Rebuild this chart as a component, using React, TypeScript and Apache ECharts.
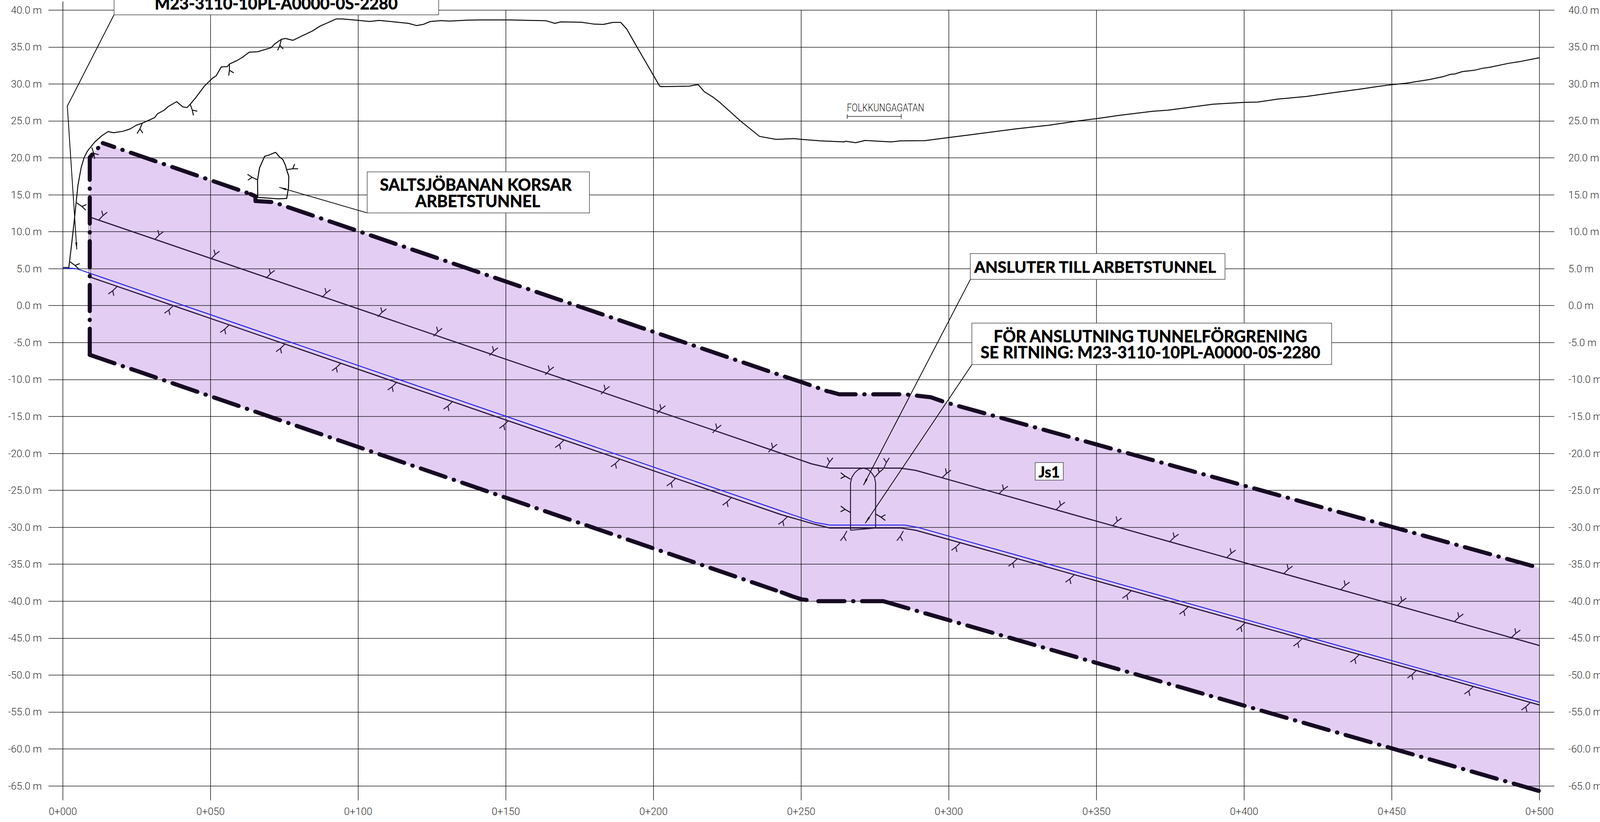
import React, { useEffect, useRef } from "react";
import * as echarts from "echarts";

const terrain = [[0,5.15],[2,5.15],[3,8.45],[3.9,11.7],[5.1,16.3],[6.2,18.7],[7.2,20.05],[8.3,20.9],[10.7,22.1],[13.2,23],[15.3,23.55],[17.2,23.4],[20.4,23.6],[22.7,23.9],[24.8,24.4],[26.9,24.7],[29.2,25.1],[31.1,25.45],[32,25.95],[34.3,26.45],[35.7,26.95],[38.5,27.6],[40.6,26.9],[42,26.8],[43.1,27.25],[45,28.15],[47.8,29.65],[50.6,30.75],[51.9,31.1],[53.6,32.3],[55.7,32.35],[56.4,32.7],[58.9,33.15],[60.8,33.6],[63.1,34.3],[65.9,34.35],[70.5,34.9],[71.7,35.4],[74,36.05],[75.4,36.15],[77.9,35.9],[80.7,36.45],[84.4,37.15],[87.2,37.85],[92.6,38.8],[94.6,38.8],[97.4,38.7],[103.9,38.45],[107.1,38.6],[110.9,38.45],[117,38.2],[119.7,37.9],[122,38.05],[124.4,38.45],[128.1,38.57],[130.9,38.5],[137.2,38.63],[141.3,38.66],[151.4,38.66],[158.5,38.6],[163.6,38.55],[166.6,38.2],[168.6,38.4],[175.7,38.35],[179.8,38.1],[183,38.05],[186.3,38.33],[188.9,38.33],[190.9,37.45],[194.4,35],[200,31.15],[202,29.75],[202.5,29.63],[212.1,29.7],[214.7,29.9],[215.2,29.87],[217.2,28.95],[220.2,28.2],[222.3,27.55],[229.4,25],[235.9,22.9],[241.5,22.5],[247.6,22.6],[250.1,22.5],[256.5,22.3],[264.7,22.15],[265,22.25],[268.5,22.05],[271.6,22.35],[280.5,22.15],[283.7,22.3],[291.9,22.33],[300,22.75],[307.1,23.1],[322.3,23.9],[331.1,24.3],[333.7,24.4],[343.8,25],[350,25.3],[357.7,25.75],[369.1,26.3],[374.2,26.45],[381.8,26.85],[389.4,27.25],[400,27.5],[404.6,27.55],[411.5,27.95],[421,28.3],[429.9,28.8],[439.4,29.3],[445.1,29.65],[450,29.9],[454.9,30.1],[462.8,30.6],[467.5,31],[469.9,31.3],[471.4,31.35],[473.9,31.67],[478,31.85],[480.5,32.1],[483.1,32.25],[489.7,32.8],[493.7,33.05],[500,33.55]];

const upperRock = [[9.7,11.9],[243.3,-20],[253.4,-21.4],[259.7,-22],[283.7,-22],[288.8,-22.3],[297.7,-23.3],[500,-46]];
const lowerRock = [[9.3,3.85],[243.3,-28.3],[254.7,-29.6],[259.7,-30.1],[283.7,-30.1],[288.8,-30.4],[500,-54.05]];
const blueLine = [[0,5.1],[3,5.05],[5,4.95],[243.3,-27.8],[254.7,-29.35],[259.7,-29.7],[285,-29.7],[289.4,-30],[500,-53.67]];

const zoneOutline = [[9.1,-6.66],[9.1,20.05],[10.7,20.8],[13.5,22],[65.2,14.8],[65.2,14.15],[71.3,14],[243.3,-9.46],[250.9,-10.46],[257.2,-11.35],[260.4,-11.8],[262.9,-12],[285,-12],[293.9,-12.4],[298.9,-13.1],[500,-35.5],[500,-65.7],[277.8,-40],[255.8,-40],[253.7,-39.95],[250,-39.74],[246.7,-39.3],[243.4,-38.8]];

const edgeLeft = [[9.1,-6.66],[9.1,20.05],[10.7,20.8],[12.9,21.75]];
const edgeTopA = [[13.5,22],[62.5,15.25]];
const edgeTopB = [[63.5,15.1],[65.2,14.8],[65.2,14.15],[71.3,14],[243.3,-9.46],[250.9,-10.46],[257.2,-11.35],[259,-11.6]];
const edgeTopC = [[259.7,-11.65],[262.9,-12],[285,-12],[293.9,-12.4],[298.9,-13.1],[500,-35.5]];
const edgeBottomA = [[9.1,-6.66],[241.5,-38.55]];
const edgeBottomB = [[243.4,-38.8],[246.7,-39.3],[250,-39.74],[253.7,-39.95]];
const edgeBottomC = [[255.8,-40],[277.6,-40]];
const edgeBottomD = [[277.8,-40],[500,-65.7]];

const railTunnel = [[66,14.6],[65.9,17],[66.6,18.65],[68.3,20.2],[69.6,20.35],[72,20.75],[73.3,20.15],[74.5,19.75],[75.4,18.95],[75.7,18.45],[76.5,17.5],[76.4,16],[75.8,14.5],[73,14.45],[66,14.65]];
const branchTunnel = [[266.7,-30.4],[266.7,-24],[267.2,-23.2],[268.2,-22.6],[269.5,-22.15],[271,-22],[272.5,-22.15],[273.8,-22.6],[274.8,-23.2],[275.2,-24],[275.2,-30.1],[266.7,-30.4]];
const wallStrip = [[8.8,11.7],[8.8,4.1],[9.4,4.0],[9.4,11.9]];

const leaderPortal = [[17.3,39.35],[1.5,27],[4.7,7.6]];
const leaderRail = [[103,12.55],[73.3,16]];
const leaderJoin = [[307.3,3.55],[271.1,-24.3]];
const leaderBranch = [[307.8,-8],[271.7,-29.45]];
const streetMark = [[265.6,25.9],[265.6,25.3],[265.6,25.6],[283.9,25.6],[283.9,25.9],[283.9,25.3]];
const stationStub = [[0,40],[0,41.15]];

// station, elevation, direction of the stem in degrees
const upperTicks = [[12.1,11.57,46],[31.1,8.94,46],[50.1,6.3,46],[68.8,3.71,46],[87.7,1.1,46],[106.6,-1.52,46],[125.5,-4.14,46],[144.4,-6.76,46],[163.3,-9.37,46],[182.2,-11.99,46],[201.1,-14.61,46],[220,-17.23,46],[238.9,-19.84,46],[258.5,-21.9,59],[278,-22,66],[297.7,-23.3,44],[317,-25.46,44],[336.3,-27.63,44],[355.5,-29.78,44],[374.8,-31.95,44],[394.1,-34.11,44],[413.4,-36.28,44],[432.7,-38.45,44],[451.9,-40.6,44],[471.2,-42.76,44],[490.5,-44.93,44]];
const lowerTicks = [[18.4,2.6,224],[37.4,-0.01,224],[56.3,-2.61,224],[75.2,-5.2,224],[94.1,-7.8,224],[113,-10.4,224],[131.9,-13,224],[150.8,-15.59,224],[169.7,-18.19,224],[188.6,-20.79,224],[207.5,-23.38,224],[226.4,-25.98,224],[245.3,-28.58,224],[265.5,-30.5,240],[284.6,-30.5,240],[303.9,-32.09,224],[323.2,-34.25,224],[342.5,-36.41,224],[361.8,-38.58,224],[381.1,-40.74,224],[400.4,-42.9,224],[419.7,-45.06,224],[439,-47.22,224],[458.3,-49.38,224],[477.6,-51.55,224],[496.9,-53.71,224]];
const surfaceTicks = [[2.4,5.93,324],[4.7,13.9,325],[9.8,21.4,288],[26.9,24.7,247],[43.1,27.25,290],[56.4,32.7,270],[74,36.05,255],[66,17,155],[75.7,18.4,8],[266.7,-23.5,150],[266.7,-28,150],[275.2,-28.2,330],[275,-23.2,48]];
const leaderTips = [[4.7,7.6,274],[73.3,16,164],[271.1,-24.3,242],[271.7,-29.45,236]];

const stationMin = 0, stationMax = 500, stationStep = 50;
const elevationMin = -65, elevationMax = 40, elevationStep = 5;
const portalNote = "M23-3110-10PL-A0000-0S-2280";
const railNote = ["SALTSJÖBANAN KORSAR", "ARBETSTUNNEL"];
const joinNote = "ANSLUTER TILL ARBETSTUNNEL";
const branchNote = ["FÖR ANSLUTNING TUNNELFÖRGRENING", "SE RITNING: M23-3110-10PL-A0000-0S-2280"];
const zoneName = "Js1";
const streetName = "FOLKKUNGAGATAN";

const INK = "#2b1a3f";
const rad = (d: number) => (d * Math.PI) / 180;

function line(data: number[][], color: string, width: number, extra: any = {}) {
  return {
    type: "line", data, symbol: "none", clip: false, silent: true, z: 3,
    lineStyle: { color, width, join: "round", ...extra },
  };
}
const dashEdge = (data: number[][], dashOffset = 0) =>
  line(data, "#160b22", 10.5, { type: [67, 22, 1, 22], dashOffset, cap: "round" });

function glyphSeries(data: number[][], color: string) {
  return {
    type: "custom", data, clip: false, silent: true, z: 4, encode: { x: 0, y: 1 },
    renderItem(_: any, api: any) {
      const [x, y] = api.coord([api.value(0), api.value(1)]);
      const t = api.value(2);
      const at = (ox: number, oy: number, a: number, l: number) => [ox + Math.cos(rad(a)) * l, oy - Math.sin(rad(a)) * l];
      const fork = at(x, y, t, 16);
      return {
        type: "polyline",
        shape: { points: [[x, y], fork, at(fork[0], fork[1], t - 8, 14), fork, at(fork[0], fork[1], t + 58, 13)] },
        style: { stroke: color, fill: "none", lineWidth: 2.5 },
      };
    },
  };
}

function box(x: number, y: number, w: number, h: number) {
  return { type: "rect", z: 100, silent: true, shape: { x, y, width: w, height: h }, style: { fill: "#fff", stroke: "#4a4a4a", lineWidth: 1.5 } };
}
function label(text: string, x: number, y: number, size = 41.5, align = "center") {
  return {
    type: "text", z: 101, silent: true, x, y,
    style: { text, align, verticalAlign: "middle", textAlign: align, textVerticalAlign: "middle", lineHeight: 41, fill: "#000", stroke: "#000", lineWidth: 0.8, fontFamily: "Lato", fontWeight: "bold", fontSize: size },
  };
}

const axisFont = { fontFamily: "Roboto", fontWeight: 300, fontSize: 26, color: "#333" };
const hLine = { color: "rgba(25,20,30,0.72)", width: 2 };
const vLine = { color: "rgba(0,0,0,0.9)", width: 1.5 };

const yBase = {
  type: "value", min: elevationMin, max: elevationMax, interval: elevationStep,
  axisLine: { show: false, onZero: false },
};
const elevLabel = (v: number) => `${v.toFixed(1)} m`;

export default function App() {
  const ref = useRef<HTMLDivElement>(null);
  useEffect(() => {
    const chart = echarts.init(ref.current!, null, { renderer: "svg" });
    chart.setOption({
      animation: false,
      backgroundColor: "#fff",
      grid: { left: 161, right: 173, top: 25.7, bottom: 92.4 },
      xAxis: {
        type: "value", min: stationMin, max: stationMax, interval: stationStep,
        axisLine: { show: false, onZero: false },
        axisTick: { show: true, length: 37, lineStyle: vLine },
        splitLine: { show: true, lineStyle: vLine },
        axisLabel: { ...axisFont, margin: 52, formatter: (v: number) => `0+${String(v).padStart(3, "0")}` },
      },
      yAxis: [
        { ...yBase, position: "left", axisTick: { show: true, length: 37, lineStyle: hLine }, splitLine: { show: true, lineStyle: hLine }, axisLabel: { ...axisFont, margin: 54, align: "right", formatter: elevLabel } },
        { ...yBase, position: "right", axisTick: { show: true, length: 38, lineStyle: hLine }, splitLine: { show: false }, axisLabel: { ...axisFont, margin: 74, align: "left", formatter: elevLabel } },
      ],
      series: [
        {
          type: "custom", data: zoneOutline, clip: false, silent: true, z: -1, encode: { x: 0, y: 1 },
          renderItem(params: any, api: any) {
            if (params.dataIndex !== 0) return null;
            return { type: "polygon", shape: { points: zoneOutline.map((p) => api.coord(p)) }, style: { fill: "#e3cdf3", stroke: "none" } };
          },
        },
        line(stationStub, "#000", 1.5),
        line(terrain, "#0a0a0a", 2.5),
        line(upperRock, INK, 3),
        line(lowerRock, INK, 3),
        line(blueLine, "#2323e6", 2.5),
        line(railTunnel, "#000", 2.5),
        line(branchTunnel, INK, 2.5),
        line(wallStrip, INK, 1),
        line(leaderPortal, "#000", 2),
        line(leaderRail, "#000", 2),
        line(leaderJoin, "#000", 2),
        line(leaderBranch, "#000", 2),
        line(streetMark, "#222", 1.5),
        dashEdge(edgeLeft),
        dashEdge(edgeTopA, 36),
        dashEdge(edgeTopB),
        dashEdge(edgeTopC),
        dashEdge(edgeBottomA),
        dashEdge(edgeBottomB),
        dashEdge(edgeBottomC),
        dashEdge(edgeBottomD),
        glyphSeries(upperTicks, INK),
        glyphSeries(lowerTicks, INK),
        glyphSeries(surfaceTicks, "#111"),
        {
          type: "custom", data: leaderTips, clip: false, silent: true, z: 4, encode: { x: 0, y: 1 },
          renderItem(_: any, api: any) {
            const [x, y] = api.coord([api.value(0), api.value(1)]);
            const t = rad(api.value(2));
            const bx = x - Math.cos(t) * 18, by = y + Math.sin(t) * 18;
            const nx = Math.sin(t) * 2.5, ny = Math.cos(t) * 2.5;
            return { type: "polygon", shape: { points: [[x, y], [bx + nx, by + ny], [bx - nx, by - ny]] }, style: { fill: "#000" } };
          },
        },
      ],
      graphic: [
        box(292, -12, 831, 50),
        label(portalNote, 707, 8),
        box(940, 440, 569, 105),
        label(railNote[0], 1218, 472),
        label(railNote[1], 1223, 514),
        box(2484, 649, 652, 66),
        label(joinNote, 2494, 682, 41, "left"),
        box(2488, 827, 921, 106),
        label(branchNote.join("\n"), 2945, 880.5),
        box(2650, 1184, 72, 45),
        label(zoneName, 2686, 1207, 38),
        {
          type: "text", z: 101, silent: true, x: 2267, y: 275, scaleX: 0.8,
          style: { text: streetName, align: "center", verticalAlign: "middle", textAlign: "center", textVerticalAlign: "middle", fill: "#222", fontFamily: "Roboto", fontWeight: 300, fontSize: 28 },
        },
      ],
    });
    return () => chart.dispose();
  }, []);
  return <div ref={ref} style={{ position: "absolute", left: 0, top: 0, width: 4114, height: 2104 }} />;
}
